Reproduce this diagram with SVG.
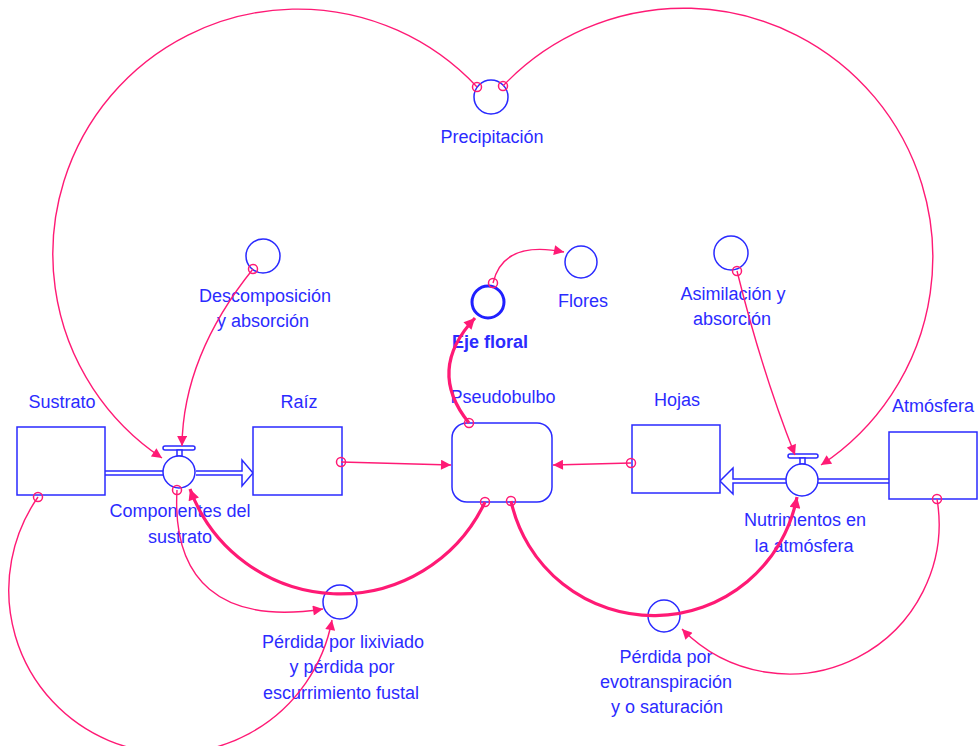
<svg xmlns="http://www.w3.org/2000/svg" width="979" height="746" viewBox="0 0 979 746">
<style>
.n{fill:#fff;stroke:#2a2aff;stroke-width:1.5}
.aux{fill:none;stroke:#2a2aff;stroke-width:1.5}
.t{font-family:"Liberation Sans",Arial,sans-serif;font-size:18px;fill:#2b2bff;text-anchor:middle}
.b{font-weight:bold}
.c{fill:none;stroke:#ff1a75;stroke-width:1.4}
.ck{fill:none;stroke:#ff1a75;stroke-width:3.2}
.o{fill:none;stroke:#ff1a75;stroke-width:1.5}
.pipe{fill:none;stroke:#2a2aff;stroke-width:1.5}
</style>
<defs>
<marker id="a" viewBox="0 0 10 10" refX="10" refY="5" markerUnits="userSpaceOnUse" markerWidth="12" markerHeight="10" orient="auto">
<path d="M0,0 L10,5 L0,10 z" fill="#ff1a75"/>
</marker>
<marker id="ak" viewBox="0 0 10 10" refX="10" refY="5" markerUnits="userSpaceOnUse" markerWidth="13" markerHeight="11" orient="auto">
<path d="M0,0 L10,5 L0,10 z" fill="#ff1a75"/>
</marker>
</defs>

<g id="flows">
<path class="pipe" d="M105,471 H163 M105,475 H163"/>
<path class="n" d="M196,471 H242 V460 L253,473 L242,486 V475 H196"/>
<path class="pipe" d="M818,479 H889 M818,483 H889"/>
<path class="n" d="M786,479 H733 V468 L720,481 L733,494 V483 H786"/>
</g>

<g id="sustrato">
<rect class="n" x="17" y="427" width="88" height="68"/>
<text class="t" x="62" y="408">Sustrato</text>
</g>
<g id="raiz">
<rect class="n" x="253" y="427" width="89" height="68"/>
<text class="t" x="299" y="408">Raíz</text>
</g>
<g id="pseudobulbo">
<rect class="n" x="452" y="423" width="100" height="79" rx="15"/>
<text class="t" x="503" y="403">Pseudobulbo</text>
</g>
<g id="hojas">
<rect class="n" x="632" y="425" width="88" height="68"/>
<text class="t" x="677" y="406">Hojas</text>
</g>
<g id="atmosfera">
<rect class="n" x="889" y="432" width="88" height="67"/>
<text class="t" x="933" y="412">Atmósfera</text>
</g>

<g id="componentes">
<rect class="n" x="163" y="446" width="32" height="4" rx="2"/>
<rect class="n" x="177" y="450" width="5" height="6"/>
<circle class="n" cx="179" cy="472" r="16"/>
<text class="t" x="180" y="517">Componentes del</text>
<text class="t" x="180" y="543">sustrato</text>
</g>
<g id="nutrimentos">
<rect class="n" x="788" y="454" width="30" height="4" rx="2"/>
<rect class="n" x="800" y="458" width="5" height="6"/>
<circle class="n" cx="802" cy="480" r="16"/>
<text class="t" x="805" y="526">Nutrimentos en</text>
<text class="t" x="804" y="552">la atmósfera</text>
</g>

<g id="precipitacion">
<circle class="aux" cx="491" cy="97" r="17"/>
<text class="t" x="492" y="143">Precipitación</text>
</g>
<g id="descomposicion">
<circle class="aux" cx="263" cy="256" r="17"/>
<text class="t" x="265" y="302">Descomposición</text>
<text class="t" x="263" y="327">y absorción</text>
</g>
<g id="asimilacion">
<circle class="aux" cx="731" cy="253" r="17"/>
<text class="t" x="733" y="300">Asimilación y</text>
<text class="t" x="732" y="325">absorción</text>
</g>
<g id="eje_floral">
<circle cx="488" cy="302" r="16" fill="none" stroke="#2020ff" stroke-width="3"/>
<text class="t b" x="490" y="348">Eje floral</text>
</g>
<g id="flores">
<circle class="aux" cx="581" cy="262" r="16"/>
<text class="t" x="583" y="307">Flores</text>
</g>
<g id="lixiviado">
<circle class="aux" cx="340" cy="602" r="17"/>
<text class="t" x="343" y="648">Pérdida por lixiviado</text>
<text class="t" x="342" y="673">y pérdida por</text>
<text class="t" x="341" y="699">escurrimiento fustal</text>
</g>
<g id="evotranspiracion">
<circle class="aux" cx="664" cy="616" r="16"/>
<text class="t" x="666" y="663">Pérdida por</text>
<text class="t" x="666" y="688">evotranspiración</text>
<text class="t" x="667" y="713">y o saturación</text>
</g>

<g id="connectors">
<path class="c" d="M477,87 A245,245 0 1 0 162,458" marker-end="url(#a)"/>
<path class="c" d="M503,86 A249,249 0 1 1 821,465" marker-end="url(#a)"/>
<path class="c" d="M253,269 Q183,356 182,446" marker-end="url(#a)"/>
<path class="c" d="M737,271 Q762,372 795,455" marker-end="url(#a)"/>
<path class="c" d="M341,462 L451,465" marker-end="url(#a)"/>
<path class="c" d="M631,463 L553,465" marker-end="url(#a)"/>
<path class="ck" d="M469,423 Q426,370 475,318" marker-end="url(#ak)"/>
<path class="c" d="M493,283 Q503,240 564,252" marker-end="url(#a)"/>
<path class="ck" d="M485,502 A160,160 0 0 1 190,489" marker-end="url(#ak)"/>
<path class="ck" d="M511,501 A146,146 0 0 0 797,497" marker-end="url(#ak)"/>
<path class="c" d="M177,490 C172,580 220,625 323,609" marker-end="url(#a)"/>
<path class="c" d="M38,497 A163,163 0 1 0 332,620" marker-end="url(#a)"/>
<path class="c" d="M937,499 A150,150 0 0 1 682,629" marker-end="url(#a)"/>
<circle class="o" cx="477" cy="87" r="4.5"/>
<circle class="o" cx="503" cy="86" r="4.5"/>
<circle class="o" cx="253" cy="269" r="4.5"/>
<circle class="o" cx="737" cy="271" r="4.5"/>
<circle class="o" cx="341" cy="462" r="4.5"/>
<circle class="o" cx="631" cy="463" r="4.5"/>
<circle class="o" cx="469" cy="423" r="4.5"/>
<circle class="o" cx="493" cy="283" r="4.5"/>
<circle class="o" cx="485" cy="502" r="4.5"/>
<circle class="o" cx="511" cy="501" r="4.5"/>
<circle class="o" cx="177" cy="490" r="4.5"/>
<circle class="o" cx="38" cy="497" r="4.5"/>
<circle class="o" cx="937" cy="499" r="4.5"/>
</g>
</svg>
